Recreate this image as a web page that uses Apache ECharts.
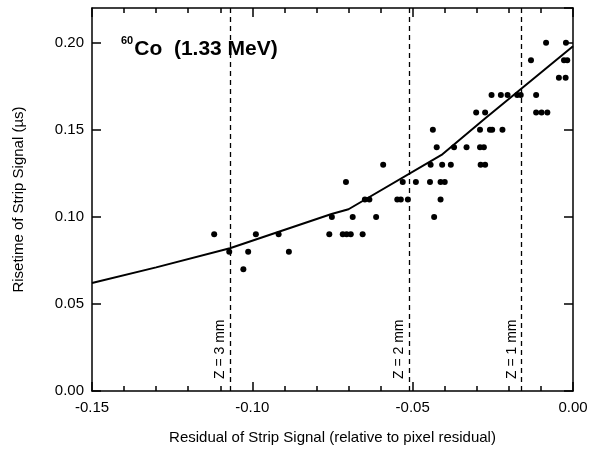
<!DOCTYPE html>
<html>
<head>
<meta charset="utf-8">
<script src="https://cdn.jsdelivr.net/npm/echarts@6/dist/echarts.min.js"></script>
<style>
  html, body { margin: 0; padding: 0; background: #fff; }
  #chart { width: 605px; height: 453px; }
</style>
</head>
<body>
<div id="chart"></div>
<script>
  // measured points: residual (x) and risetime in µs (y)
  var pointX = [
    -0.1028,
    -0.1072, -0.1013, -0.0886,
    -0.1119, -0.0989, -0.0918, -0.0760, -0.0718, -0.0706, -0.0693, -0.0656,
    -0.0752, -0.0687, -0.0614, -0.0433,
    -0.0649, -0.0635, -0.0548, -0.0537, -0.0515, -0.0413,
    -0.0708, -0.0531, -0.0490, -0.0446, -0.0413, -0.0400,
    -0.0592, -0.0444, -0.0408, -0.0381, -0.0288, -0.0274,
    -0.0425, -0.0371, -0.0332, -0.0290, -0.0278,
    -0.0437, -0.0290, -0.0259, -0.0252, -0.0220,
    -0.0302, -0.0274, -0.0115, -0.0098, -0.0080,
    -0.0254, -0.0225, -0.0204, -0.0174, -0.0163, -0.0115,
    -0.0044, -0.0023,
    -0.0131, -0.0028, -0.0018,
    -0.0084, -0.0022
  ];
  var pointY = [
    0.07,
    0.08, 0.08, 0.08,
    0.09, 0.09, 0.09, 0.09, 0.09, 0.09, 0.09, 0.09,
    0.10, 0.10, 0.10, 0.10,
    0.11, 0.11, 0.11, 0.11, 0.11, 0.11,
    0.12, 0.12, 0.12, 0.12, 0.12, 0.12,
    0.13, 0.13, 0.13, 0.13, 0.13, 0.13,
    0.14, 0.14, 0.14, 0.14, 0.14,
    0.15, 0.15, 0.15, 0.15, 0.15,
    0.16, 0.16, 0.16, 0.16, 0.16,
    0.17, 0.17, 0.17, 0.17, 0.17, 0.17,
    0.18, 0.18,
    0.19, 0.19, 0.19,
    0.20, 0.20
  ];
  // fitted curve
  var fitX = [-0.15, -0.13, -0.107, -0.0753, -0.07, -0.041, -0.028, 0];
  var fitY = [0.062, 0.071, 0.082, 0.1017, 0.1044, 0.1356, 0.1557, 0.198];
  // depth markers
  var depthX = [-0.107, -0.051, -0.016];
  var depthLabels = ['Z = 3 mm', 'Z = 2 mm', 'Z = 1 mm'];

  var font = 'Liberation Sans, Arial, sans-serif';
  var tickColor = '#000';
  var chart = echarts.init(document.getElementById('chart'));

  function zip(a, b) {
    return a.map(function (v, i) { return [v, b[i]]; });
  }
  function axLine() { return { show: true, onZero: false, lineStyle: { color: '#000', width: 1.5 } }; }
  function tick(len) { return { show: true, inside: true, length: len, lineStyle: { color: tickColor, width: 1.5 } }; }
  function minor() { return { show: true, splitNumber: 5, length: 5, lineStyle: { color: tickColor, width: 1.5 } }; }

  var option = {
    animation: false,
    grid: { left: 92, right: 32, top: 8, bottom: 62 },
    xAxis: [{
      type: 'value', min: -0.15, max: 0, interval: 0.05,
      name: 'Residual of Strip Signal (relative to pixel residual)',
      nameLocation: 'middle', nameGap: 39,
      nameTextStyle: { fontFamily: font, fontSize: 15, color: '#000' },
      axisLine: axLine(),
      axisTick: tick(9),
      minorTick: minor(),
      axisLabel: { fontFamily: font, fontSize: 15, color: '#000', margin: 9,
        formatter: function (v) { return v.toFixed(2); } },
      splitLine: { show: false }
    }, {
      type: 'value', position: 'top', min: -0.15, max: 0, interval: 0.05,
      axisLine: axLine(),
      axisTick: tick(9),
      minorTick: minor(),
      axisLabel: { show: false },
      splitLine: { show: false }
    }],
    yAxis: [{
      type: 'value', min: 0, max: 0.22, interval: 0.05,
      name: 'Risetime of Strip Signal (µs)',
      nameLocation: 'middle', nameGap: 66,
      nameTextStyle: { fontFamily: font, fontSize: 15, color: '#000' },
      axisLine: axLine(),
      axisTick: tick(9),
      axisLabel: { fontFamily: font, fontSize: 15, color: '#000', margin: 8, showMaxLabel: false,
        formatter: function (v) { return v.toFixed(2); } },
      splitLine: { show: false }
    }, {
      type: 'value', position: 'right', min: 0, max: 0.22, interval: 0.05,
      axisLine: axLine(),
      axisTick: tick(9),
      axisLabel: { show: false },
      splitLine: { show: false }
    }],
    graphic: [{
      type: 'text', left: 121, top: 35,
      style: {
        text: '{sup|60}{main|Co  (1.33 MeV)}',
        rich: {
          sup: { fontFamily: font, fontSize: 11, fontWeight: 'bold', fill: '#000', verticalAlign: 'top', padding: [0, 1, 11, 0] },
          main: { fontFamily: font, fontSize: 21, fontWeight: 'bold', fill: '#000', padding: [4, 0, 0, 0] }
        }
      }
    }],
    series: [{
      type: 'line',
      data: zip(fitX, fitY),
      showSymbol: false,
      lineStyle: { color: '#000', width: 2 },
      z: 3,
      markLine: {
        silent: true,
        symbol: 'none',
        precision: 4,
        lineStyle: { color: '#000', width: 1.3, type: [5, 4] },
        label: {
          show: true, position: 'insideStartTop', distance: [12, 3],
          fontFamily: font, fontSize: 14, color: '#000',
          formatter: function (p) { return p.name; }
        },
        data: depthX.map(function (x, i) { return { name: depthLabels[i], xAxis: x }; })
      }
    }, {
      type: 'scatter',
      data: zip(pointX, pointY),
      symbolSize: 6,
      itemStyle: { color: '#000', opacity: 1 },
      z: 4
    }]
  };
  chart.setOption(option);
</script>
</body>
</html>
